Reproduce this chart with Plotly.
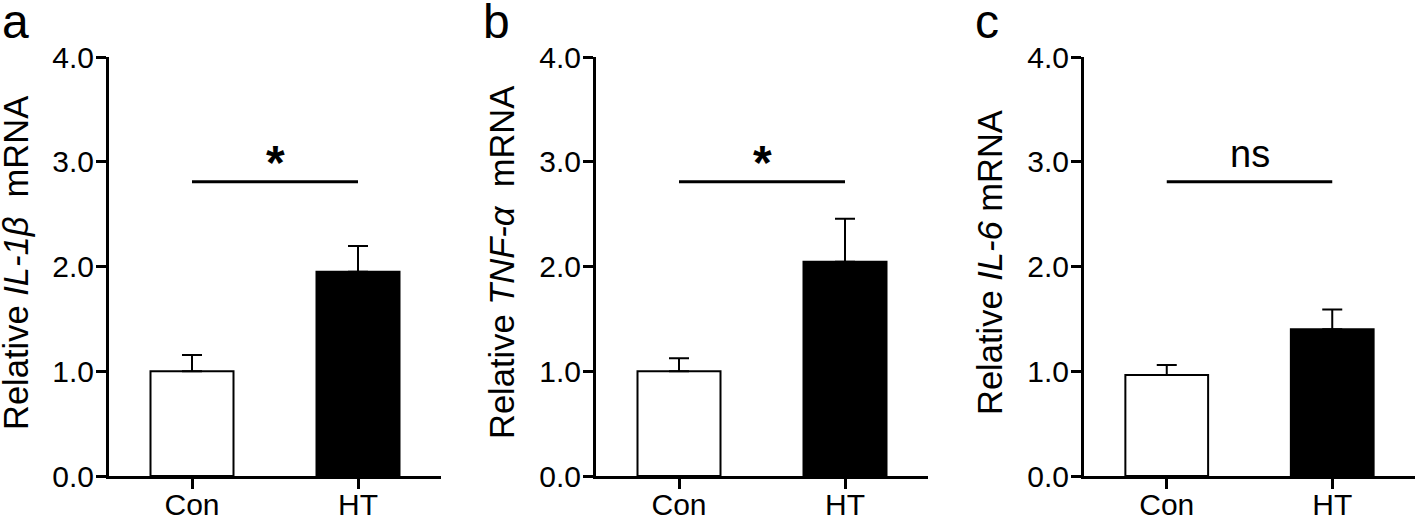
import plotly.graph_objects as go

# ---- data ----
categories = ["Con", "HT"]
il1b_mean = [1.00, 1.95]
il1b_sem = [0.155, 0.245]
tnfa_mean = [1.00, 2.045]
tnfa_sem = [0.125, 0.41]
il6_mean = [0.965, 1.40]
il6_sem = [0.095, 0.19]
sig_level = [2.81, 2.81, 2.81]
sig_text = ["*", "*", "ns"]
panel_letters = ["a", "b", "c"]
y_titles = ["Relative <i>IL-1β</i>\u00a0\u00a0mRNA",
            "Relative <i>TNF-α</i>\u00a0\u00a0mRNA",
            "Relative <i>IL-6</i> mRNA"]
y_tickvals = [0, 1, 2, 3, 4]
y_ticktext = ["0.0", "1.0", "2.0", "3.0", "4.0"]

W, H = 1418, 517
FONT = "Liberation Sans, Arial, Helvetica, sans-serif"
bar_colors = ["white", "black"]


def px_x(x):
    return x / W


def px_y(y):
    return (H - y) / H


# pixel geometry of panels (axis start/end)
x_px = [(109, 441), (596, 928), (1084, 1415)]
y_px = (57, 476)  # top, bottom
title_x_px = [16, 502, 990]
letter_x_px = [0, 481, 973]

means = [il1b_mean, tnfa_mean, il6_mean]
sems = [il1b_sem, tnfa_sem, il6_sem]

fig = go.Figure()
annotations = []
for i in range(3):
    sfx = "" if i == 0 else str(i + 1)
    xa, ya = "x" + sfx, "y" + sfx
    fig.add_trace(go.Bar(
        x=categories, y=means[i], xaxis=xa, yaxis=ya, width=0.5,
        marker=dict(color=bar_colors, line=dict(color="black", width=2)),
        error_y=dict(type="data", symmetric=False, array=sems[i],
                     arrayminus=[0, 0], color="black", thickness=2, width=10),
        showlegend=False, hoverinfo="skip"))
    fig.add_trace(go.Scatter(
        x=categories, y=[sig_level[i], sig_level[i]], xaxis=xa, yaxis=ya,
        mode="lines", line=dict(color="black", width=3),
        showlegend=False, hoverinfo="skip"))

    x0, x1 = x_px[i]
    fig.update_layout(**{
        "xaxis" + sfx: dict(
            domain=[px_x(x0), px_x(x1)], anchor=ya, type="category",
            range=[-0.5, 1.5], showline=True, linewidth=3, linecolor="black",
            ticks="outside", ticklen=10, tickwidth=3, tickcolor="black",
            ticklabelstandoff=-10,
            tickfont=dict(family=FONT, size=30, color="black"),
            showgrid=False, zeroline=False, fixedrange=True, automargin=False),
        "yaxis" + sfx: dict(
            domain=[px_y(y_px[1]), px_y(y_px[0])], anchor=xa,
            range=[0, 4], showline=True, linewidth=3, linecolor="black",
            ticks="outside", ticklen=10, tickwidth=3, tickcolor="black",
            tickvals=y_tickvals, ticktext=y_ticktext, ticklabelstandoff=-4,
            tickfont=dict(family=FONT, size=30, color="black"),
            showgrid=False, zeroline=False, fixedrange=True, automargin=False),
    })

    # y-axis title
    annotations.append(dict(
        text=y_titles[i], textangle=-90, xref="paper", yref="paper",
        x=px_x(title_x_px[i]), y=px_y(263), xanchor="center", yanchor="middle",
        showarrow=False, font=dict(family=FONT, size=34.5, color="black")))
    # panel letter
    annotations.append(dict(
        text=panel_letters[i], xref="paper", yref="paper",
        x=px_x(letter_x_px[i]), y=px_y(21), xanchor="left", yanchor="middle",
        showarrow=False, font=dict(family=FONT, size=48, color="black")))
    # significance label
    if sig_text[i] == "*":
        annotations.append(dict(
            text="<b>*</b>", xref=xa, yref=ya, x=0.5, y=sig_level[i],
            xanchor="center", yanchor="middle", yshift=19,
            showarrow=False, font=dict(family=FONT, size=48, color="black")))
    else:
        annotations.append(dict(
            text=sig_text[i], xref=xa, yref=ya, x=0.5, y=sig_level[i],
            xanchor="center", yanchor="middle", yshift=28,
            showarrow=False, font=dict(family=FONT, size=38, color="black")))

fig.update_layout(
    width=W, height=H, margin=dict(l=0, r=0, t=0, b=0, autoexpand=False),
    paper_bgcolor="white", plot_bgcolor="white",
    annotations=annotations, bargap=0.5,
    font=dict(family=FONT, color="black"),
)

fig.write_html("out.html",
               config={"displayModeBar": False, "staticPlot": True},
               post_script="document.body.style.margin='0';document.body.style.overflow='hidden';")
